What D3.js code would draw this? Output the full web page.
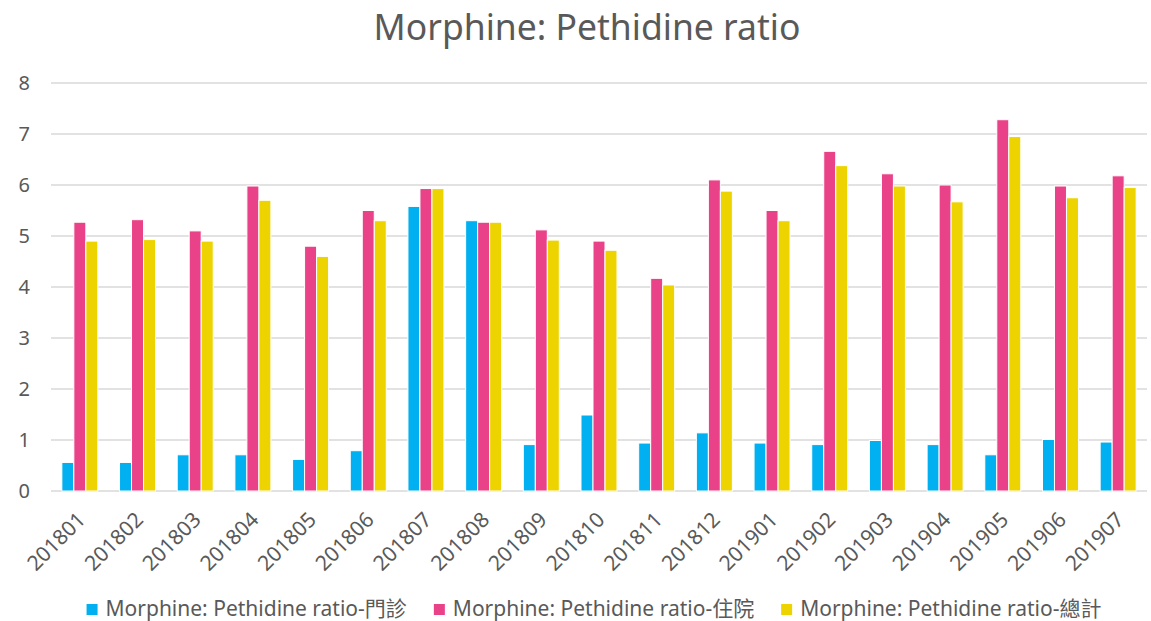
<!DOCTYPE html>
<html>
<head>
<meta charset="utf-8">
<script src="https://cdn.jsdelivr.net/npm/d3@7"></script>
<style>
  body { margin: 0; background: #fff; }
  text { font-family: "Noto Sans", "Noto Sans CJK TC", sans-serif; fill: #595959; }
</style>
</head>
<body>
<svg id="chart" width="1151" height="621"></svg>
<script>
var months = ['201801','201802','201803','201804','201805','201806','201807','201808','201809','201810',
              '201811','201812','201901','201902','201903','201904','201905','201906','201907'];
var seriesNames = ['Morphine: Pethidine ratio-門診', 'Morphine: Pethidine ratio-住院', 'Morphine: Pethidine ratio-總計'];
var outpatient = [0.56,0.56,0.71,0.71,0.62,0.79,5.58,5.30,0.91,1.49,0.94,1.14,0.94,0.91,0.99,0.91,0.71,1.01,0.96];
var inpatient  = [5.27,5.32,5.10,5.98,4.80,5.50,5.93,5.27,5.12,4.90,4.17,6.10,5.50,6.66,6.22,6.00,7.28,5.98,6.18];
var total      = [4.90,4.93,4.90,5.70,4.60,5.30,5.93,5.27,4.92,4.72,4.04,5.88,5.30,6.38,5.98,5.67,6.95,5.75,5.95];
var yTicks = [0,1,2,3,4,5,6,7,8];
var colors = ['#00B0F0', '#EA4288', '#EDD400'];

var svg = d3.select('#chart');
var margin = {left: 51, right: 4, top: 83, bottom: 130};
var width = 1151, height = 621;

var x = d3.scaleBand()
    .domain(months)
    .range([margin.left, width - margin.right])
    .paddingInner(0.376)
    .paddingOuter(0.188);

var xs = d3.scaleBand()
    .domain([0, 1, 2])
    .range([0, x.bandwidth()]);

var y = d3.scaleLinear()
    .domain([0, 8])
    .range([height - margin.bottom, margin.top]);

// title
svg.append('text')
    .attr('x', 587)
    .attr('y', 40)
    .attr('text-anchor', 'middle')
    .style('font-size', '35.5px')
    .text('Morphine: Pethidine ratio');

// gridlines
svg.append('g')
    .selectAll('line')
    .data(yTicks)
    .enter()
    .append('line')
    .attr('x1', margin.left)
    .attr('x2', width - margin.right)
    .attr('y1', d => y(d))
    .attr('y2', d => y(d))
    .attr('stroke', '#d9d9d9')
    .attr('stroke-width', 1.5);

// y labels
svg.append('g')
    .selectAll('text')
    .data(yTicks)
    .enter()
    .append('text')
    .attr('x', 30)
    .attr('y', d => y(d))
    .attr('dy', '0.36em')
    .attr('text-anchor', 'end')
    .style('font-size', '20px')
    .text(d => d);

var table = months.map((m, i) => ({month: m, values: [outpatient[i], inpatient[i], total[i]]}));

var groups = svg.append('g')
    .selectAll('g')
    .data(table)
    .enter()
    .append('g')
    .attr('transform', d => 'translate(' + x(d.month) + ',0)');

groups.selectAll('rect')
    .data(d => d.values.map((v, k) => ({k: k, v: v})))
    .enter()
    .append('rect')
    .attr('x', d => xs(d.k))
    .attr('width', xs.bandwidth())
    .attr('y', d => y(d.v))
    .attr('height', d => y(0) - y(d.v))
    .attr('fill', d => colors[d.k])
    .attr('stroke', '#fff')
    .attr('stroke-width', 1);

// x labels
svg.append('g')
    .selectAll('text')
    .data(months)
    .enter()
    .append('text')
    .attr('transform', d => 'translate(' + (x(d) + x.bandwidth() / 2 + 7) + ',521) rotate(-45)')
    .attr('text-anchor', 'end')
    .style('font-size', '21px')
    .text(d => d);

// legend
var legend = svg.append('g');
var items = legend.selectAll('g')
    .data(seriesNames)
    .enter()
    .append('g');

items.append('rect')
    .attr('width', 11)
    .attr('height', 11)
    .attr('y', 604)
    .attr('fill', (d, i) => colors[i]);

items.append('text')
    .attr('x', 19)
    .attr('y', 616)
    .style('font-size', '21px')
    .text(d => d);

var offs = [], cur = 0;
items.each(function () {
    offs.push(cur);
    cur += 19 + this.querySelector('text').getComputedTextLength() + 27;
});
var legendWidth = cur - 27;
var start = 594 - legendWidth / 2;
items.attr('transform', (d, i) => 'translate(' + (start + offs[i]) + ',0)');
</script>
</body>
</html>
